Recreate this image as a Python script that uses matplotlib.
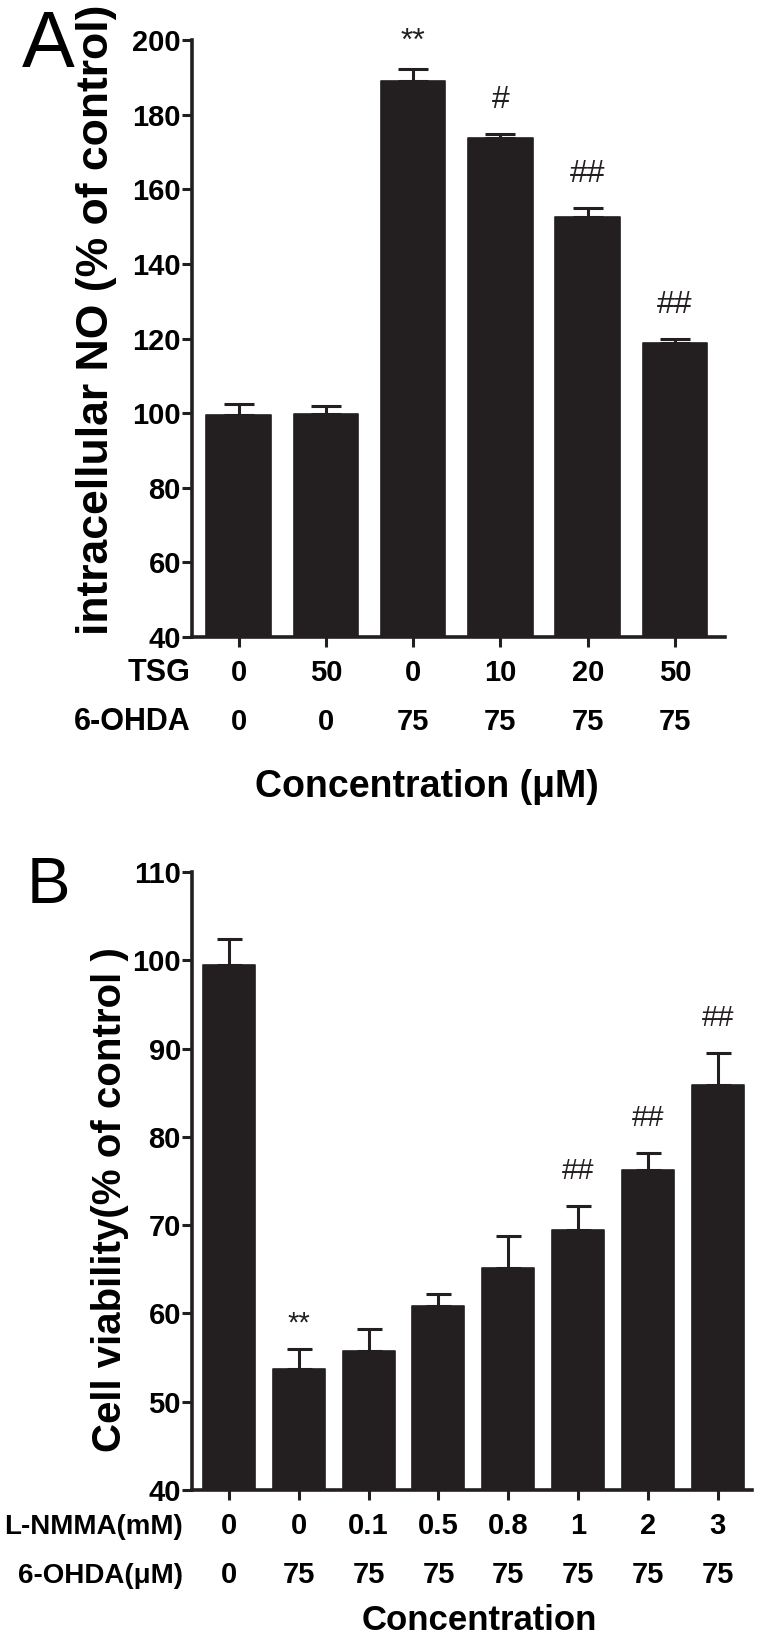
import numpy as np
import matplotlib
matplotlib.use("Agg")
import matplotlib.pyplot as plt

# panel A - intracellular NO
tsg = ['0', '50', '0', '10', '20', '50']
ohda_a = ['0', '0', '75', '75', '75', '75']
no_mean = [99.5, 99.8, 189.0, 173.7, 152.5, 118.8]
no_err = [3.0, 2.2, 3.2, 1.1, 2.5, 1.0]
no_marks = ['', '', '**', '#', '##', '##']
no_ticks = np.arange(40, 201, 20)

# panel B - cell viability
nmma = ['0', '0', '0.1', '0.5', '0.8', '1', '2', '3']
ohda_b = ['0', '75', '75', '75', '75', '75', '75', '75']
via_mean = [99.5, 53.7, 55.8, 60.8, 65.2, 69.5, 76.2, 85.9]
via_err = [2.9, 2.3, 2.4, 1.4, 3.6, 2.7, 2.0, 3.6]
via_marks = ['', '**', '', '', '', '##', '##', '##']
via_ticks = np.arange(40, 111, 10)

W, H = 764, 1643
INK = '#231f20'
FONT = ['Liberation Sans', 'DejaVu Sans']

fig = plt.figure(figsize=(W / 100, H / 100), dpi=100)


def box(left, top, right, bottom):
    # pixel box -> figure fraction
    return [left / W, 1 - bottom / H, (right - left) / W, (bottom - top) / H]


def panel(ax, means, errs, marks, row1, row2, name1, name2, ticks, xlim,
          width, capsize, marksize, star_off, hash_off, name_dx, name_size,
          xlabel, xlabel_size, xlabel_dx, xlabel_dy):
    x = np.arange(len(means))
    ax.bar(x, means, width=width, color=INK, edgecolor=INK, linewidth=1.2,
           joinstyle='round', zorder=2)
    ax.errorbar(x, means, yerr=[np.zeros(len(errs)), errs], fmt='none', ecolor=INK,
                elinewidth=2.2, capsize=capsize, capthick=2.2, zorder=3)
    for xi, m, e, s in zip(x, means, errs, marks):
        if s:
            off = star_off if '*' in s else hash_off
            ax.annotate(s, xy=(xi, m + e), xytext=(0, off), textcoords='offset pixels',
                        ha='center', va='baseline', fontsize=marksize,
                        family=FONT, color=INK)
    ax.set_xlim(*xlim)
    ax.set_ylim(ticks[0], ticks[-1])
    ax.set_yticks(ticks)
    ax.set_yticklabels([str(t) for t in ticks], fontsize=21, fontweight='bold',
                       family=FONT)
    ax.set_xticks(x)
    ax.tick_params(axis='x', length=7, width=2.2, labelbottom=False, color=INK)
    ax.tick_params(axis='y', length=7, width=2.2, pad=1, color=INK)
    for sp in ['top', 'right']:
        ax.spines[sp].set_visible(False)
    for sp in ['left', 'bottom']:
        ax.spines[sp].set_linewidth(2.6)
        ax.spines[sp].set_color(INK)

    tr = ax.get_xaxis_transform()
    for xi, a, b in zip(x, row1, row2):
        ax.annotate(a, xy=(xi, 0), xycoords=tr, xytext=(0, -44), textcoords='offset pixels',
                    ha='center', va='baseline', fontsize=21, fontweight='bold', family=FONT)
        ax.annotate(b, xy=(xi, 0), xycoords=tr, xytext=(0, -93), textcoords='offset pixels',
                    ha='center', va='baseline', fontsize=21, fontweight='bold', family=FONT)
    ax.annotate(name1, xy=(0, 0), xycoords='axes fraction', xytext=(name_dx, -44),
                textcoords='offset pixels', ha='right', va='baseline', fontsize=name_size,
                fontweight='bold', family=FONT)
    ax.annotate(name2, xy=(0, 0), xycoords='axes fraction', xytext=(name_dx, -93),
                textcoords='offset pixels', ha='right', va='baseline', fontsize=name_size,
                fontweight='bold', family=FONT)
    ax.annotate(xlabel, xy=(0.5, 0), xycoords='axes fraction', xytext=(xlabel_dx, -xlabel_dy),
                textcoords='offset pixels', ha='center', va='baseline', fontsize=xlabel_size,
                fontweight='bold', family=FONT)


axA = fig.add_axes(box(192, 40, 725, 637))
panel(axA, no_mean, no_err, no_marks, tsg, ohda_a, 'TSG', '6-OHDA', no_ticks,
      (-0.533, 5.573), 0.74, 11, 23, 19, 26, -1, 22,
      'Concentration (μM)', 27, -32, 160)

axB = fig.add_axes(box(192, 872, 752, 1490))
panel(axB, via_mean, via_err, via_marks, nmma, ohda_b, 'L-NMMA(mM)', '6-OHDA(μM)', via_ticks,
      (-0.53, 7.49), 0.745, 9, 21, 17, 27, -9, 20,
      'Concentration', 25, 7, 140)

# axis titles and panel letters
fig.text(97 / W, 1 - 320 / H, 'intracellular NO (% of control)', rotation=90,
         ha='center', va='center', fontsize=32, fontweight='bold', family=FONT)
fig.text(110 / W, 1 - 1200 / H, 'Cell viability(% of control )', rotation=90,
         ha='center', va='center', fontsize=29, fontweight='bold', family=FONT)
fig.text(22 / W, 1 - 67 / H, 'A', fontsize=57, family=FONT, ha='left', va='baseline')
fig.text(27 / W, 1 - 903 / H, 'B', fontsize=47, family=FONT, ha='left', va='baseline')

fig.savefig('out.png', dpi=100, facecolor='white')
